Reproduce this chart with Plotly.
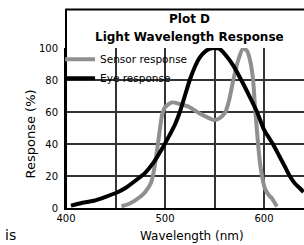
import plotly.graph_objects as go

# Sensor response (grey)
sensor_wl = [456, 465, 475, 480, 486, 489, 492, 495, 497, 500, 507, 515, 525, 535, 545, 549, 555, 561,
             565, 569, 574, 579, 583, 586, 589, 591, 592, 594, 596, 598, 601, 605, 608, 613]
sensor_val = [1, 3, 7, 10, 16, 24, 36, 50, 58, 63, 66, 65, 63, 59, 56, 55, 56, 60,
              68, 80, 92.5, 100, 98, 92, 80, 62, 55, 40, 28, 20, 12, 8, 6, 1]

# Eye response (black)
eye_wl = [405, 415, 428, 440, 451, 460, 471, 480, 488, 497, 505, 510, 515, 520, 525, 530, 535, 540,
          545, 550, 555, 562, 569, 577, 586, 593, 600, 609, 615, 621, 626, 631, 636, 640]
eye_val = [1.5, 3, 4.5, 7, 9.5, 12.5, 17.5, 22, 28, 37, 46, 52, 60, 70, 80, 88, 94, 97.5,
           99.5, 100, 99.5, 95, 89, 80, 69, 60, 49, 40, 33, 26, 20, 15.5, 12.5, 10]

x_ticks = [400, 450, 500, 550, 600]
x_ticktext = ["400", "", "500", "", "600"]
y_ticks = [0, 20, 40, 60, 80, 100]

FONT = "DejaVu Sans"

fig = go.Figure()
fig.add_trace(go.Scatter(x=sensor_wl, y=sensor_val, mode="lines", name="Sensor response",
                         line=dict(color="#8f8f8f", width=4, shape="spline", smoothing=0.6)))
fig.add_trace(go.Scatter(x=eye_wl, y=eye_val, mode="lines", name="Eye response",
                         line=dict(color="#000000", width=4, shape="spline", smoothing=0.6)))

fig.update_layout(
    width=304, height=245,
    margin=dict(l=66, r=0, t=48, b=37),
    paper_bgcolor="white", plot_bgcolor="white",
    font=dict(family=FONT, size=10, color="#000"),
    showlegend=True,
    legend=dict(x=-0.025, y=1.02, xanchor="left", yanchor="top",
                bgcolor="rgba(0,0,0,0)", font=dict(family=FONT, size=10.5),
                tracegroupgap=0, itemwidth=30),
    xaxis=dict(range=[400, 640.4], tickvals=x_ticks, ticktext=x_ticktext,
               showgrid=True, gridcolor="#333", gridwidth=1.5,
               showline=True, linecolor="#000", linewidth=2, zeroline=False,
               ticks="", tickfont=dict(family=FONT, size=10)),
    yaxis=dict(range=[0, 100], tickvals=y_ticks,
               showgrid=True, gridcolor="#333", gridwidth=1.5,
               showline=True, linecolor="#000", linewidth=2, zeroline=False,
               ticks="", ticklabelstandoff=4, tickfont=dict(family=FONT, size=10)),
    shapes=[
        dict(type="line", xref="paper", yref="paper", x0=0, x1=0, y0=0, y1=1.245,
             line=dict(color="#000", width=2)),
        dict(type="line", xref="paper", yref="paper", x0=0, x1=1.05, y0=1.24, y1=1.24,
             line=dict(color="#000", width=2)),
    ],
    annotations=[
        dict(text="<b>Plot D</b>", xref="paper", yref="paper", x=0.521, y=1.181,
             xanchor="center", yanchor="middle", showarrow=False, font=dict(family=FONT, size=12)),
        dict(text="<b>Light Wavelength Response</b>", xref="paper", yref="paper", x=0.521, y=1.069,
             xanchor="center", yanchor="middle", showarrow=False, font=dict(family=FONT, size=12)),
        dict(text="Wavelength (nm)", xref="paper", yref="paper", x=0.529, y=-0.175,
             xanchor="center", yanchor="middle", showarrow=False, font=dict(family=FONT, size=12)),
        dict(text="Response (%)", xref="paper", yref="paper", x=-0.151, y=0.46,
             xanchor="center", yanchor="middle", showarrow=False, textangle=-90,
             font=dict(family=FONT, size=13)),
        dict(text="is", xref="paper", yref="paper", x=-0.235, y=-0.17,
             xanchor="center", yanchor="middle", showarrow=False, font=dict(family=FONT, size=14)),
    ],
)

fig.write_html("out.html", config={"displayModeBar": False},
               post_script="document.body.style.margin='0';")
